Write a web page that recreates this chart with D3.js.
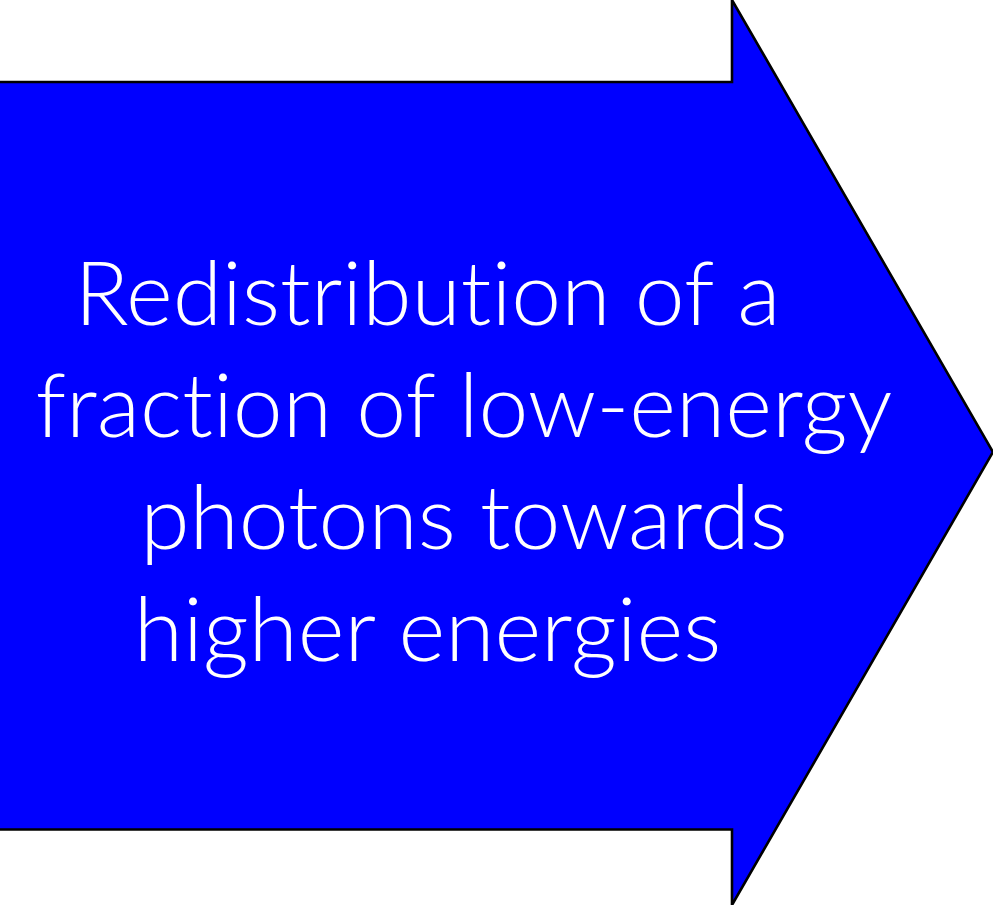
<!DOCTYPE html>
<html>
<head>
<meta charset="utf-8">
<script src="https://cdn.jsdelivr.net/npm/d3@7"></script>
<style>
  html, body { margin: 0; padding: 0; background: #ffffff; overflow: hidden; }
  svg { display: block; }
</style>
</head>
<body>
<script>
// ---- data ----
const textLines = ["Redistribution of a", "fraction of low-energy", "photons towards", "higher energies"];
const trailingSpace = [true, false, false, true];

// ---- layout ----
const W = 993, H = 905;
const svg = d3.select("body").append("svg").attr("width", W).attr("height", H);

const x = d3.scaleLinear().domain([0, 1]).range([0, W]);
const y = d3.scaleLinear().domain([0, 1]).range([0, H]);
const bodyTop = 82 / H, bodyBot = 829.5 / H, neck = 732 / W;
const pts = [
  [-0.01, bodyTop], [neck, bodyTop], [neck, 0], [1, 452 / H],
  [neck, 1], [neck, bodyBot], [-0.01, bodyBot]
];
svg.append("path")
  .attr("d", d3.line().x(d => x(d[0])).y(d => y(d[1]))(pts) + "Z")
  .attr("fill", "#0000ff")
  .attr("stroke", "#000000")
  .attr("stroke-width", 2.6)
  .attr("stroke-linejoin", "miter");

const baselines = d3.scalePoint().domain(d3.range(textLines.length)).range([325, 661]);
const cx = 464;
const t = svg.append("g")
  .attr("font-family", "Lato, 'Noto Sans', sans-serif")
  .attr("font-weight", 300)
  .attr("font-size", 89.5)
  .attr("fill", "#ffffff")
  .attr("text-anchor", "middle")
  .style("font-variant-ligatures", "none")
  .style("font-feature-settings", "'liga' 0, 'clig' 0");
t.selectAll("text").data(textLines).join("text")
  .attr("x", cx)
  .attr("y", (d, i) => baselines(i))
  .style("white-space", "pre")
  .text((d, i) => trailingSpace[i] ? d + "\u00a0\u00a0\u00a0" : d);
</script>
</body>
</html>
